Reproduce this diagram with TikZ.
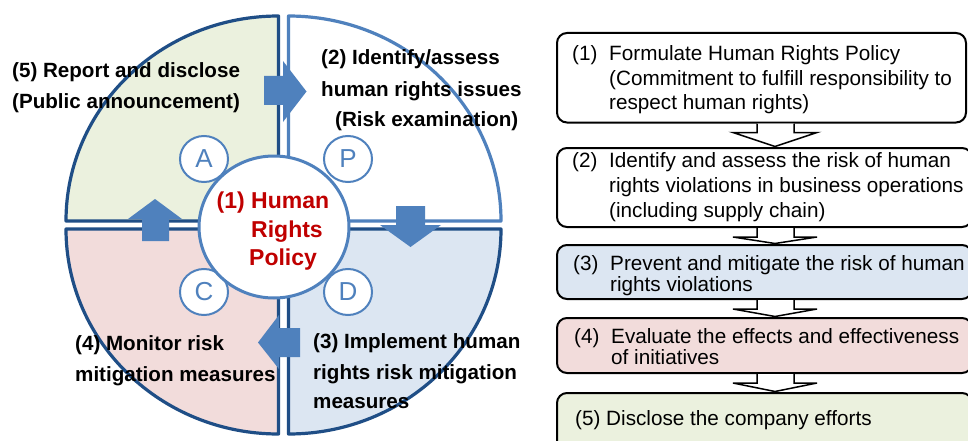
\documentclass[tikz,border=0pt]{standalone}
\usepackage{fontspec}
\setmainfont{Liberation Sans}
\usetikzlibrary{calc,shapes.geometric}

\definecolor{navy}{HTML}{1F4E86}
\definecolor{pdcablue}{HTML}{4F81BD}
\definecolor{policyred}{HTML}{C00000}
\definecolor{greenfill}{HTML}{EBF1DE}
\definecolor{pinkfill}{HTML}{F2DCDB}
\definecolor{bluefill}{HTML}{DCE6F2}

% open block arrow between two stacked step boxes
\newcommand\flowstep[2]{%
  \filldraw[flowarrow]
    ($(#1.south west)+(200,1)$) -- ($(#1.south west)+(200,10)$)
    -- ($(#1.south west)+(176,10)$) -- ($(#2.north west)+(218,-1.5)$)
    -- ($(#1.south west)+(260,10)$) -- ($(#1.south west)+(237,10)$)
    -- ($(#1.south west)+(237,1)$);
}

\begin{document}
\begin{tikzpicture}[x=1pt,y=-1pt,
  quad/.style={line width=3.2pt, line join=round},
  cyclearrow/.style={fill=pdcablue},
  hub/.style={ellipse, draw=pdcablue, fill=white, line width=3pt,
    minimum width=150pt, minimum height=142pt, inner sep=0pt},
  pdca/.style={ellipse, draw=pdcablue, fill=white, line width=2pt,
    minimum width=48pt, minimum height=46pt, inner sep=0pt,
    text=pdcablue, font=\fontsize{26}{26}\selectfont},
  phase/.style={anchor=base west, inner sep=0pt,
    font=\fontsize{20.6}{24}\selectfont\bfseries},
  policy/.style={anchor=base west, inner sep=0pt, text=policyred,
    font=\fontsize{23}{26}\selectfont\bfseries},
  stepbox/.style={draw=black, line width=2pt, rounded corners=10pt,
    inner sep=0pt, outer sep=0pt, anchor=north west},
  steptext/.style={anchor=base west, inner sep=0pt,
    font=\fontsize{20.7}{24}\selectfont},
  flowarrow/.style={draw=black, fill=white, line width=1.5pt, line join=miter}
]
\useasboundingbox (0,0) rectangle (968,441);
\fill[white] (0,0) rectangle (968,441);
\clip (0,0) rectangle (968,441);

% ---- PDCA cycle: four quadrants ----
\filldraw[quad, draw=navy, fill=greenfill]
  (278.5,221) -- (66,221) arc[start angle=180, end angle=90, x radius=212.5pt, y radius=205pt] -- cycle;
\filldraw[quad, draw=pdcablue, fill=white]
  (288.5,221) -- (288.5,16) arc[start angle=90, end angle=0, x radius=212.5pt, y radius=205pt] -- cycle;
\filldraw[quad, draw=navy, fill=bluefill]
  (288.5,229) -- (501,229) arc[start angle=0, end angle=-90, x radius=212.5pt, y radius=205pt] -- cycle;
\filldraw[quad, draw=navy, fill=pinkfill]
  (278.5,229) -- (278.5,434) arc[start angle=270, end angle=180, x radius=212.5pt, y radius=205pt] -- cycle;

% ---- cycle direction arrows ----
\fill[cyclearrow] (264,76) -- (283,76) -- (283,61) -- (306.5,91.5) -- (283,122) -- (283,105) -- (264,105) -- cycle;
\fill[cyclearrow] (396,206) -- (425,206) -- (425,225) -- (441,225) -- (410.5,247) -- (380,225) -- (396,225) -- cycle;
\fill[cyclearrow] (300,328) -- (279,328) -- (279,315) -- (258,342.5) -- (279,369) -- (279,357) -- (300,357) -- cycle;
\fill[cyclearrow] (142,241) -- (142,219) -- (128,219) -- (155,199) -- (182,219) -- (169,219) -- (169,241) -- cycle;

% ---- P / D / C / A markers and the central policy ----
\node[pdca] (act) at (204,159) {A};
\node[pdca] (plan) at (348,159) {P};
\node[pdca] (check) at (204,292) {C};
\node[pdca] (do) at (348,292) {D};
\node[hub] (hub) at (274,227) {};

\node[policy] (pol1) at (216.5,208) {(1) Human};
\node[policy] (pol2) at (251,237) {Rights};
\node[policy] (pol3) at (249,265) {Policy};

% ---- phase labels ----
\node[phase] (rep1) at (12,78) {(5) Report and disclose};
\node[phase] (rep2) at (12,109) {(Public announcement)};
\node[phase] (idn1) at (321,65) {(2) Identify/assess};
\node[phase] (idn2) at (321,96) {human rights issues};
\node[phase] (idn3) at (335,127) {(Risk examination)};
\node[phase] (imp1) at (313,348) {(3) Implement human};
\node[phase] (imp2) at (313,379) {rights risk mitigation};
\node[phase] (imp3) at (313,408) {measures};
\node[phase] (mon1) at (75,350) {(4) Monitor risk};
\node[phase] (mon2) at (75,381) {mitigation measures};

% ---- step boxes ----
\node[stepbox, fill=white, minimum width=409pt, minimum height=89.5pt] (b1) at (557,33) {};
\node[stepbox, fill=white, minimum width=415pt, minimum height=79pt] (b2) at (557,148) {};
\node[stepbox, fill=bluefill, minimum width=415pt, minimum height=54pt] (b3) at (557,245) {};
\node[stepbox, fill=pinkfill, minimum width=415pt, minimum height=55pt] (b4) at (557,318) {};
\node[stepbox, fill=greenfill, minimum width=415pt, minimum height=70pt] (b5) at (557,393) {};

\flowstep{b1}{b2}
\flowstep{b2}{b3}
\flowstep{b3}{b4}
\flowstep{b4}{b5}

% ---- step texts ----
\node[steptext] (s1n) at (572,61) {(1)};
\node[steptext] (s1a) at (609,61) {Formulate Human Rights Policy};
\node[steptext] (s1b) at (609,85.5) {(Commitment to fulfill responsibility to};
\node[steptext] (s1c) at (609,110) {respect human rights)};

\node[steptext] (s2n) at (572,167) {(2)};
\node[steptext] (s2a) at (609,167) {Identify and assess the risk of human};
\node[steptext] (s2b) at (609,192) {rights violations in business operations};
\node[steptext] (s2c) at (609,217) {(including supply chain)};

\node[steptext] (s3n) at (573,270) {(3)};
\node[steptext] (s3a) at (610,270) {Prevent and mitigate the risk of human};
\node[steptext] (s3b) at (610,291.5) {rights violations};

\node[steptext] (s4n) at (574,343) {(4)};
\node[steptext] (s4a) at (611,343) {Evaluate the effects and effectiveness};
\node[steptext] (s4b) at (611,364) {of initiatives};

\node[steptext] (s5a) at (575,425) {(5) Disclose the company efforts};
\end{tikzpicture}
\end{document}
